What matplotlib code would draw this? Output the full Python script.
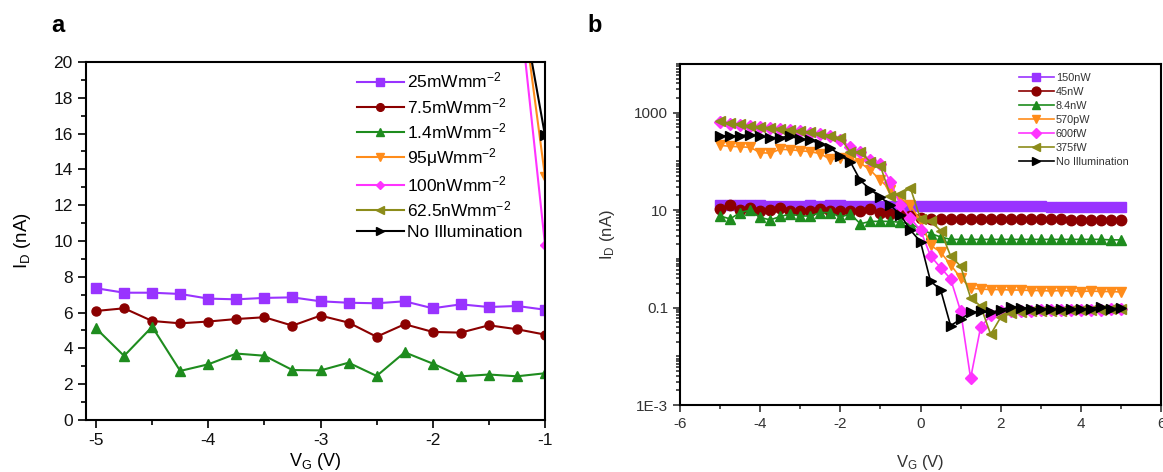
import numpy as np
import matplotlib
matplotlib.use("Agg")
import matplotlib.pyplot as plt
from matplotlib.ticker import FixedLocator, MultipleLocator, LogLocator, NullFormatter, FixedFormatter

plt.rcParams['font.family'] = ['Liberation Sans', 'DejaVu Sans']
plt.rcParams['mathtext.fontset'] = 'custom'
plt.rcParams['mathtext.rm'] = 'Liberation Sans'
plt.rcParams['mathtext.it'] = 'Liberation Sans:italic'
plt.rcParams['axes.unicode_minus'] = False

# ---------------- Panel a data ----------------
vg_a = [-5.0, -4.75, -4.5, -4.25, -4.0, -3.75, -3.5, -3.25, -3.0, -2.75, -2.5,
        -2.25, -2.0, -1.75, -1.5, -1.25, -1.0]
a_25mW = [7.36, 7.11, 7.11, 7.04, 6.78, 6.74, 6.82, 6.85, 6.63, 6.55, 6.52,
          6.63, 6.24, 6.46, 6.31, 6.37, 6.16]
a_7p5mW = [6.09, 6.24, 5.53, 5.40, 5.50, 5.64, 5.74, 5.27, 5.83, 5.44, 4.65,
           5.35, 4.92, 4.88, 5.29, 5.07, 4.77]
a_1p4mW = [5.12, 3.58, 5.21, 2.74, 3.11, 3.71, 3.59, 2.79, 2.77, 3.20, 2.46,
           3.78, 3.15, 2.44, 2.54, 2.44, 2.61]
vg_a_tail = [-1.25, -1.0]
a_95uW = [25.5, 13.6]
a_100nW = [24.5, 9.8]
a_62p5nW = [40.0, 28.0]
a_dark = [24.7, 15.9]

labels_a = ['25mWmm$^{-2}$', '7.5mWmm$^{-2}$', '1.4mWmm$^{-2}$', '95\u03bcWmm$^{-2}$',
            '100nWmm$^{-2}$', '62.5nWmm$^{-2}$', 'No Illumination']

# ---------------- Panel b data (log10 of I_D in nA) ----------------
vg_b = [-5.0, -4.75, -4.5, -4.25, -4.0, -3.75, -3.5, -3.25, -3.0, -2.75, -2.5,
        -2.25, -2.0, -1.75, -1.5, -1.25, -1.0, -0.75, -0.5, -0.25, 0.0,
        0.25, 0.5, 0.75, 1.0, 1.25, 1.5, 1.75, 2.0, 2.25, 2.5,
        2.75, 3.0, 3.25, 3.5, 3.75, 4.0, 4.25, 4.5, 4.75, 5.0]
log_150nW = [1.11, 1.10, 1.10, 1.10, 1.10, 1.09, 1.09, 1.09, 1.09, 1.10, 1.09,
             1.10, 1.10, 1.09, 1.09, 1.09, 1.09, 1.09, 1.08, 1.08, 1.08,
             1.08, 1.08, 1.08, 1.08, 1.08, 1.08, 1.08, 1.08, 1.08, 1.08,
             1.08, 1.08, 1.07, 1.07, 1.07, 1.07, 1.07, 1.07, 1.07, 1.06]
log_45nW = [1.03, 1.10, 1.00, 1.04, 0.98, 1.00, 1.04, 0.98, 0.99, 0.98, 1.02,
            0.98, 0.99, 0.99, 0.99, 1.02, 0.95, 0.93, 0.92, 0.88, 0.83,
            0.81, 0.81, 0.81, 0.81, 0.81, 0.81, 0.81, 0.81, 0.81, 0.81,
            0.81, 0.81, 0.81, 0.81, 0.80, 0.80, 0.80, 0.80, 0.80, 0.79]
log_8p4nW = [0.88, 0.82, 0.95, 1.00, 0.85, 0.80, 0.87, 0.92, 0.88, 0.88, 0.95,
             0.95, 0.86, 0.92, 0.72, 0.77, 0.77, 0.77, 0.75, 0.72, 0.62,
             0.52, 0.45, 0.40, 0.40, 0.40, 0.40, 0.40, 0.40, 0.40, 0.40,
             0.40, 0.40, 0.40, 0.40, 0.40, 0.40, 0.40, 0.40, 0.39, 0.39]
log_570pW = [2.33, 2.31, 2.30, 2.29, 2.18, 2.17, 2.25, 2.24, 2.22, 2.20, 2.16,
             2.04, 2.08, 2.06, 1.97, 1.82, 1.61, 1.42, 1.24, 1.10, 0.78,
             0.28, 0.14, -0.12, -0.39, -0.60, -0.62, -0.63, -0.63, -0.64, -0.64,
             -0.65, -0.65, -0.66, -0.65, -0.66, -0.67, -0.66, -0.67, -0.67, -0.68]
log_600fW = [2.80, 2.77, 2.75, 2.73, 2.71, 2.69, 2.67, 2.65, 2.62, 2.59, 2.56,
             2.52, 2.45, 2.29, 2.19, 2.02, 1.95, 1.58, 1.10, 0.83, 0.59,
             0.06, -0.18, -0.41, -1.07, -2.45, -1.40, -1.16, -1.08, -1.07, -1.06,
             -1.06, -1.05, -1.05, -1.05, -1.04, -1.04, -1.04, -1.04, -1.03, -1.03]
log_375fW = [2.82, 2.78, 2.76, 2.73, 2.71, 2.69, 2.67, 2.65, 2.62, 2.60, 2.57,
             2.53, 2.48, 2.19, 2.19, 1.99, 1.90, 1.30, 1.34, 1.45, 0.82,
             0.78, 0.58, 0.06, -0.15, -0.80, -0.97, -1.55, -1.20, -1.12, -1.10,
             -1.08, -1.07, -1.06, -1.06, -1.05, -1.05, -1.04, -1.04, -1.03, -1.03]
log_dark = [2.53, 2.52, 2.53, 2.55, 2.52, 2.49, 2.49, 2.52, 2.46, 2.44, 2.36,
            2.28, 2.12, 1.99, 1.61, 1.42, 1.27, 1.10, 0.90, 0.59, 0.35,
            -0.46, -0.63, -1.37, -1.24, -1.10, -1.08, -1.10, -1.05, -0.98, -1.00,
            -1.02, -1.03, -1.02, -1.03, -1.02, -1.03, -1.02, -0.98, -1.03, -1.00]

labels_b = ['150nW', '45nW', '8.4nW', '570pW', '600fW', '375fW', 'No Illumination']

colors = ['#9933FF', '#8B0000', '#1E8C1E', '#FF8C1A', '#FF33FF', '#8C8C1A', '#000000']
markers = ['s', 'o', '^', 'v', 'D', '<', '>']

fig = plt.figure(figsize=(11.63, 4.72), dpi=100)
axa = fig.add_axes([0.0739, 0.1102, 0.3947, 0.7585])
axb = fig.add_axes([0.5847, 0.1419, 0.4136, 0.7225])

# ---------------- Panel a ----------------
series_a = [(vg_a, a_25mW), (vg_a, a_7p5mW), (vg_a, a_1p4mW), (vg_a_tail, a_95uW),
            (vg_a_tail, a_100nW), (vg_a_tail, a_62p5nW), (vg_a_tail, a_dark)]
for (xs, ys), c, m, lab in zip(series_a, colors, markers, labels_a):
    ms = 5.2 if m == 'D' else 6.5
    axa.plot(xs, ys, color=c, marker=m, ms=ms, lw=1.5, label=lab, clip_on=True)
axa.set_xlim(-5.09, -1.0)
axa.set_ylim(0, 20)
axa.xaxis.set_major_locator(MultipleLocator(1))
axa.xaxis.set_minor_locator(MultipleLocator(0.5))
axa.yaxis.set_major_locator(MultipleLocator(2))
axa.yaxis.set_minor_locator(MultipleLocator(1))
axa.tick_params(which='both', direction='out', labelsize=12.5, width=1.3, colors='#111111')
axa.tick_params(which='major', length=6)
axa.tick_params(which='minor', length=3.5)
for s in axa.spines.values():
    s.set_linewidth(1.5)
axa.set_ylabel('I$_\\mathrm{D}$ (nA)', fontsize=13.5)
axa.set_xlabel('V$_\\mathrm{G}$ (V)', fontsize=13)
axa.yaxis.set_label_coords(-0.115, 0.5)
axa.xaxis.set_label_coords(0.5, -0.088)
leg_a = axa.legend(loc='upper left', bbox_to_anchor=(0.59, 0.975), frameon=False,
                   fontsize=12.5, handlelength=2.7, handletextpad=0.2, labelspacing=0.3,
                   borderpad=0, borderaxespad=0, markerscale=0.85)

# ---------------- Panel b ----------------
series_b = [log_150nW, log_45nW, log_8p4nW, log_570pW, log_600fW, log_375fW, log_dark]
for lv, c, m, lab in zip(series_b, colors, markers, labels_b):
    ms = 6.3 if m == 'D' else 7.5
    axb.plot(vg_b, 10.0 ** np.array(lv), color=c, marker=m, ms=ms, lw=1.2, label=lab)
axb.set_yscale('log')
axb.set_xlim(-6, 6)
axb.set_ylim(1e-3, 1e4)
axb.xaxis.set_major_locator(MultipleLocator(2))
axb.xaxis.set_minor_locator(MultipleLocator(1))
axb.yaxis.set_major_locator(FixedLocator([1e-3, 1e-1, 1e1, 1e3]))
axb.yaxis.set_major_formatter(FixedFormatter(['1E-3', '0.1', '10', '1000']))
axb.yaxis.set_minor_locator(LogLocator(base=10, subs=np.arange(1, 10), numticks=50))
axb.yaxis.set_minor_formatter(NullFormatter())
axb.tick_params(which='both', direction='out', labelsize=11, width=1.2, colors='#333333')
axb.tick_params(which='major', length=5)
axb.tick_params(which='minor', length=3)
for s in axb.spines.values():
    s.set_linewidth(1.5)
axb.set_ylabel('I$_\\mathrm{D}$ (nA)', fontsize=12, color='#333333')
axb.set_xlabel('V$_\\mathrm{G}$ (V)', fontsize=12, color='#333333')
axb.yaxis.set_label_coords(-0.13, 0.5)
axb.xaxis.set_label_coords(0.5, -0.14)
leg_b = axb.legend(loc='upper left', bbox_to_anchor=(0.705, 0.975), frameon=False,
                   fontsize=7.8, handlelength=3.2, handletextpad=0.2, labelspacing=0.38,
                   borderpad=0, borderaxespad=0, markerscale=0.85)
for t in leg_b.get_texts():
    t.set_color('#333333')

fig.text(58 / 1163, 1 - 25 / 472, 'a', fontsize=17, fontweight='bold', ha='center', va='center')
fig.text(595 / 1163, 1 - 25 / 472, 'b', fontsize=17, fontweight='bold', ha='center', va='center')

fig.savefig('out.png', dpi=100)
